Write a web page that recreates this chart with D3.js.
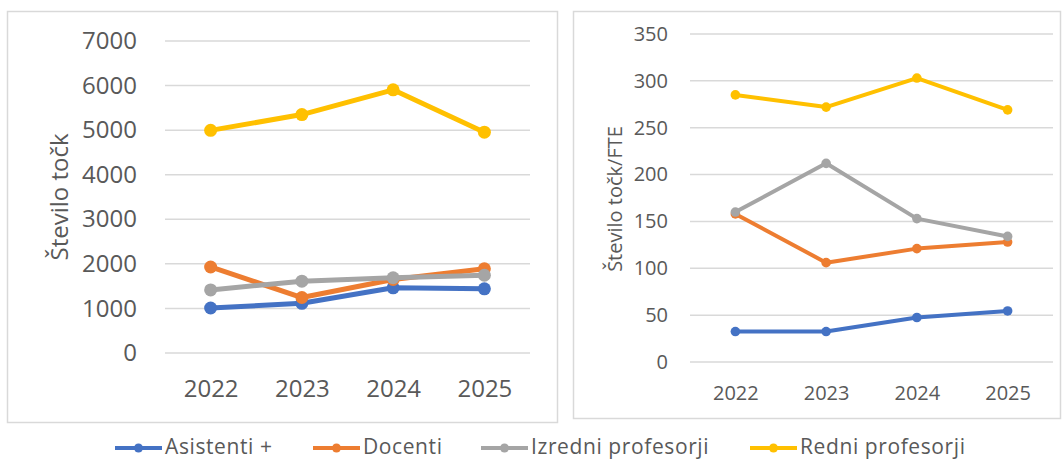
<!DOCTYPE html>
<html>
<head>
<meta charset="utf-8">
<title>Število točk</title>
<script src="https://cdn.jsdelivr.net/npm/d3@7"></script>
<style>
  body { margin: 0; background: #fff; }
  text { font-family: "Open Sans", sans-serif; fill: #595959; }
</style>
</head>
<body>
<svg id="chart" width="1062" height="461"></svg>
<script>
    var years = ["2022", "2023", "2024", "2025"];
    var seriesNames = ["Asistenti +", "Docenti", "Izredni profesorji", "Redni profesorji"];
    var colors = ["#4472C4", "#ED7D31", "#A5A5A5", "#FFC000"];

    // left: Število točk
    var tockeAsistenti = [1010, 1115, 1462, 1440];
    var tockeDocenti = [1930, 1245, 1650, 1890];
    var tockeIzredni = [1415, 1612, 1688, 1745];
    var tockeRedni = [4995, 5350, 5905, 4955];
    var leftTicks = [0, 1000, 2000, 3000, 4000, 5000, 6000, 7000];

    // right: Število točk/FTE
    var fteAsistenti = [32.5, 32.5, 47.5, 54.5];
    var fteDocenti = [158, 106, 121, 128];
    var fteIzredni = [160, 212, 153, 134];
    var fteRedni = [285, 272, 303, 269];
    var rightTicks = [0, 50, 100, 150, 200, 250, 300, 350];

    var svg = d3.select("#chart");

    function panel(cfg) {
        svg.append("rect")
            .attr("x", cfg.box[0] + 0.5).attr("y", cfg.box[1] + 0.5)
            .attr("width", cfg.box[2]).attr("height", cfg.box[3])
            .attr("fill", "#fff")
            .attr("stroke", "#D9D9D9")
            .attr("stroke-width", 1.5);

        var x = d3.scalePoint()
            .domain(years)
            .range([cfg.left, cfg.right])
            .padding(0.5);

        var y = d3.scaleLinear()
            .domain([0, cfg.max])
            .range([cfg.bottom, cfg.top]);

        // gridlines
        svg.append("g")
            .selectAll("line")
            .data(cfg.ticks)
            .join("line")
            .attr("x1", cfg.left).attr("x2", cfg.right)
            .attr("y1", d => y(d)).attr("y2", d => y(d))
            .attr("stroke", "#D9D9D9")
            .attr("stroke-width", 1.5);

        var yAxis = svg.append("g")
            .attr("transform", `translate(${cfg.tickX},0)`)
            .call(d3.axisLeft(y).tickValues(cfg.ticks).tickFormat(d3.format("d"))
                .tickSize(0).tickPadding(0));
        yAxis.select(".domain").remove();
        yAxis.selectAll("text")
            .attr("font-size", cfg.font)
            .attr("fill", "#595959")
            .attr("font-family", "'Open Sans', sans-serif");

        var xAxis = svg.append("g")
            .attr("transform", `translate(0,${cfg.labelY})`)
            .call(d3.axisBottom(x).tickSize(0).tickPadding(0));
        xAxis.select(".domain").remove();
        xAxis.selectAll("text")
            .attr("dy", 0)
            .attr("font-size", cfg.font)
            .attr("fill", "#595959")
            .attr("font-family", "'Open Sans', sans-serif");

        svg.append("text")
            .attr("transform", `translate(${cfg.titleX},${cfg.titleY}) rotate(-90)`)
            .attr("text-anchor", "middle")
            .attr("font-size", cfg.titleFont)
            .text(cfg.title);

        var line = d3.line()
            .x((d, i) => x(years[i]))
            .y(d => y(d));

        cfg.series.forEach(function (vals, k) {
            svg.append("path")
                .datum(vals)
                .attr("fill", "none")
                .attr("stroke", colors[k])
                .attr("stroke-width", cfg.lineW)
                .attr("stroke-linejoin", "round")
                .attr("d", line);
            svg.append("g")
                .selectAll("circle")
                .data(vals)
                .join("circle")
                .attr("cx", (d, i) => x(years[i]))
                .attr("cy", d => y(d))
                .attr("r", cfg.r)
                .attr("fill", colors[k]);
        });
    }

    panel({
        box: [7, 11, 550, 411],
        left: 165, right: 530, top: 41, bottom: 353,
        max: 7000, ticks: leftTicks,
        tickX: 137, labelY: 397, font: 24,
        title: "Število točk", titleX: 68, titleY: 197, titleFont: 24,
        series: [tockeAsistenti, tockeDocenti, tockeIzredni, tockeRedni],
        lineW: 5, r: 6.5
    });

    panel({
        box: [573, 11, 487, 407],
        left: 690, right: 1053, top: 34, bottom: 362,
        max: 350, ticks: rightTicks,
        tickX: 668, labelY: 400, font: 20,
        title: "Število točk/FTE", titleX: 622, titleY: 199, titleFont: 20,
        series: [fteAsistenti, fteDocenti, fteIzredni, fteRedni],
        lineW: 4, r: 4.8
    });

    // legend
    var legendX = [115, 313, 481, 750];
    var legend = svg.append("g")
        .selectAll("g")
        .data(seriesNames)
        .join("g")
        .attr("transform", (d, i) => `translate(${legendX[i]},448)`);
    legend.append("line")
        .attr("x1", 0).attr("x2", 47)
        .attr("stroke", (d, i) => colors[i])
        .attr("stroke-width", 4);
    legend.append("circle")
        .attr("cx", 23.5)
        .attr("r", 4.5)
        .attr("fill", (d, i) => colors[i]);
    legend.append("text")
        .attr("x", 50)
        .attr("y", -1)
        .attr("dy", "0.35em")
        .attr("font-size", 21)
        .attr("letter-spacing", 0.6)
        .text(d => d);
</script>
</body>
</html>
